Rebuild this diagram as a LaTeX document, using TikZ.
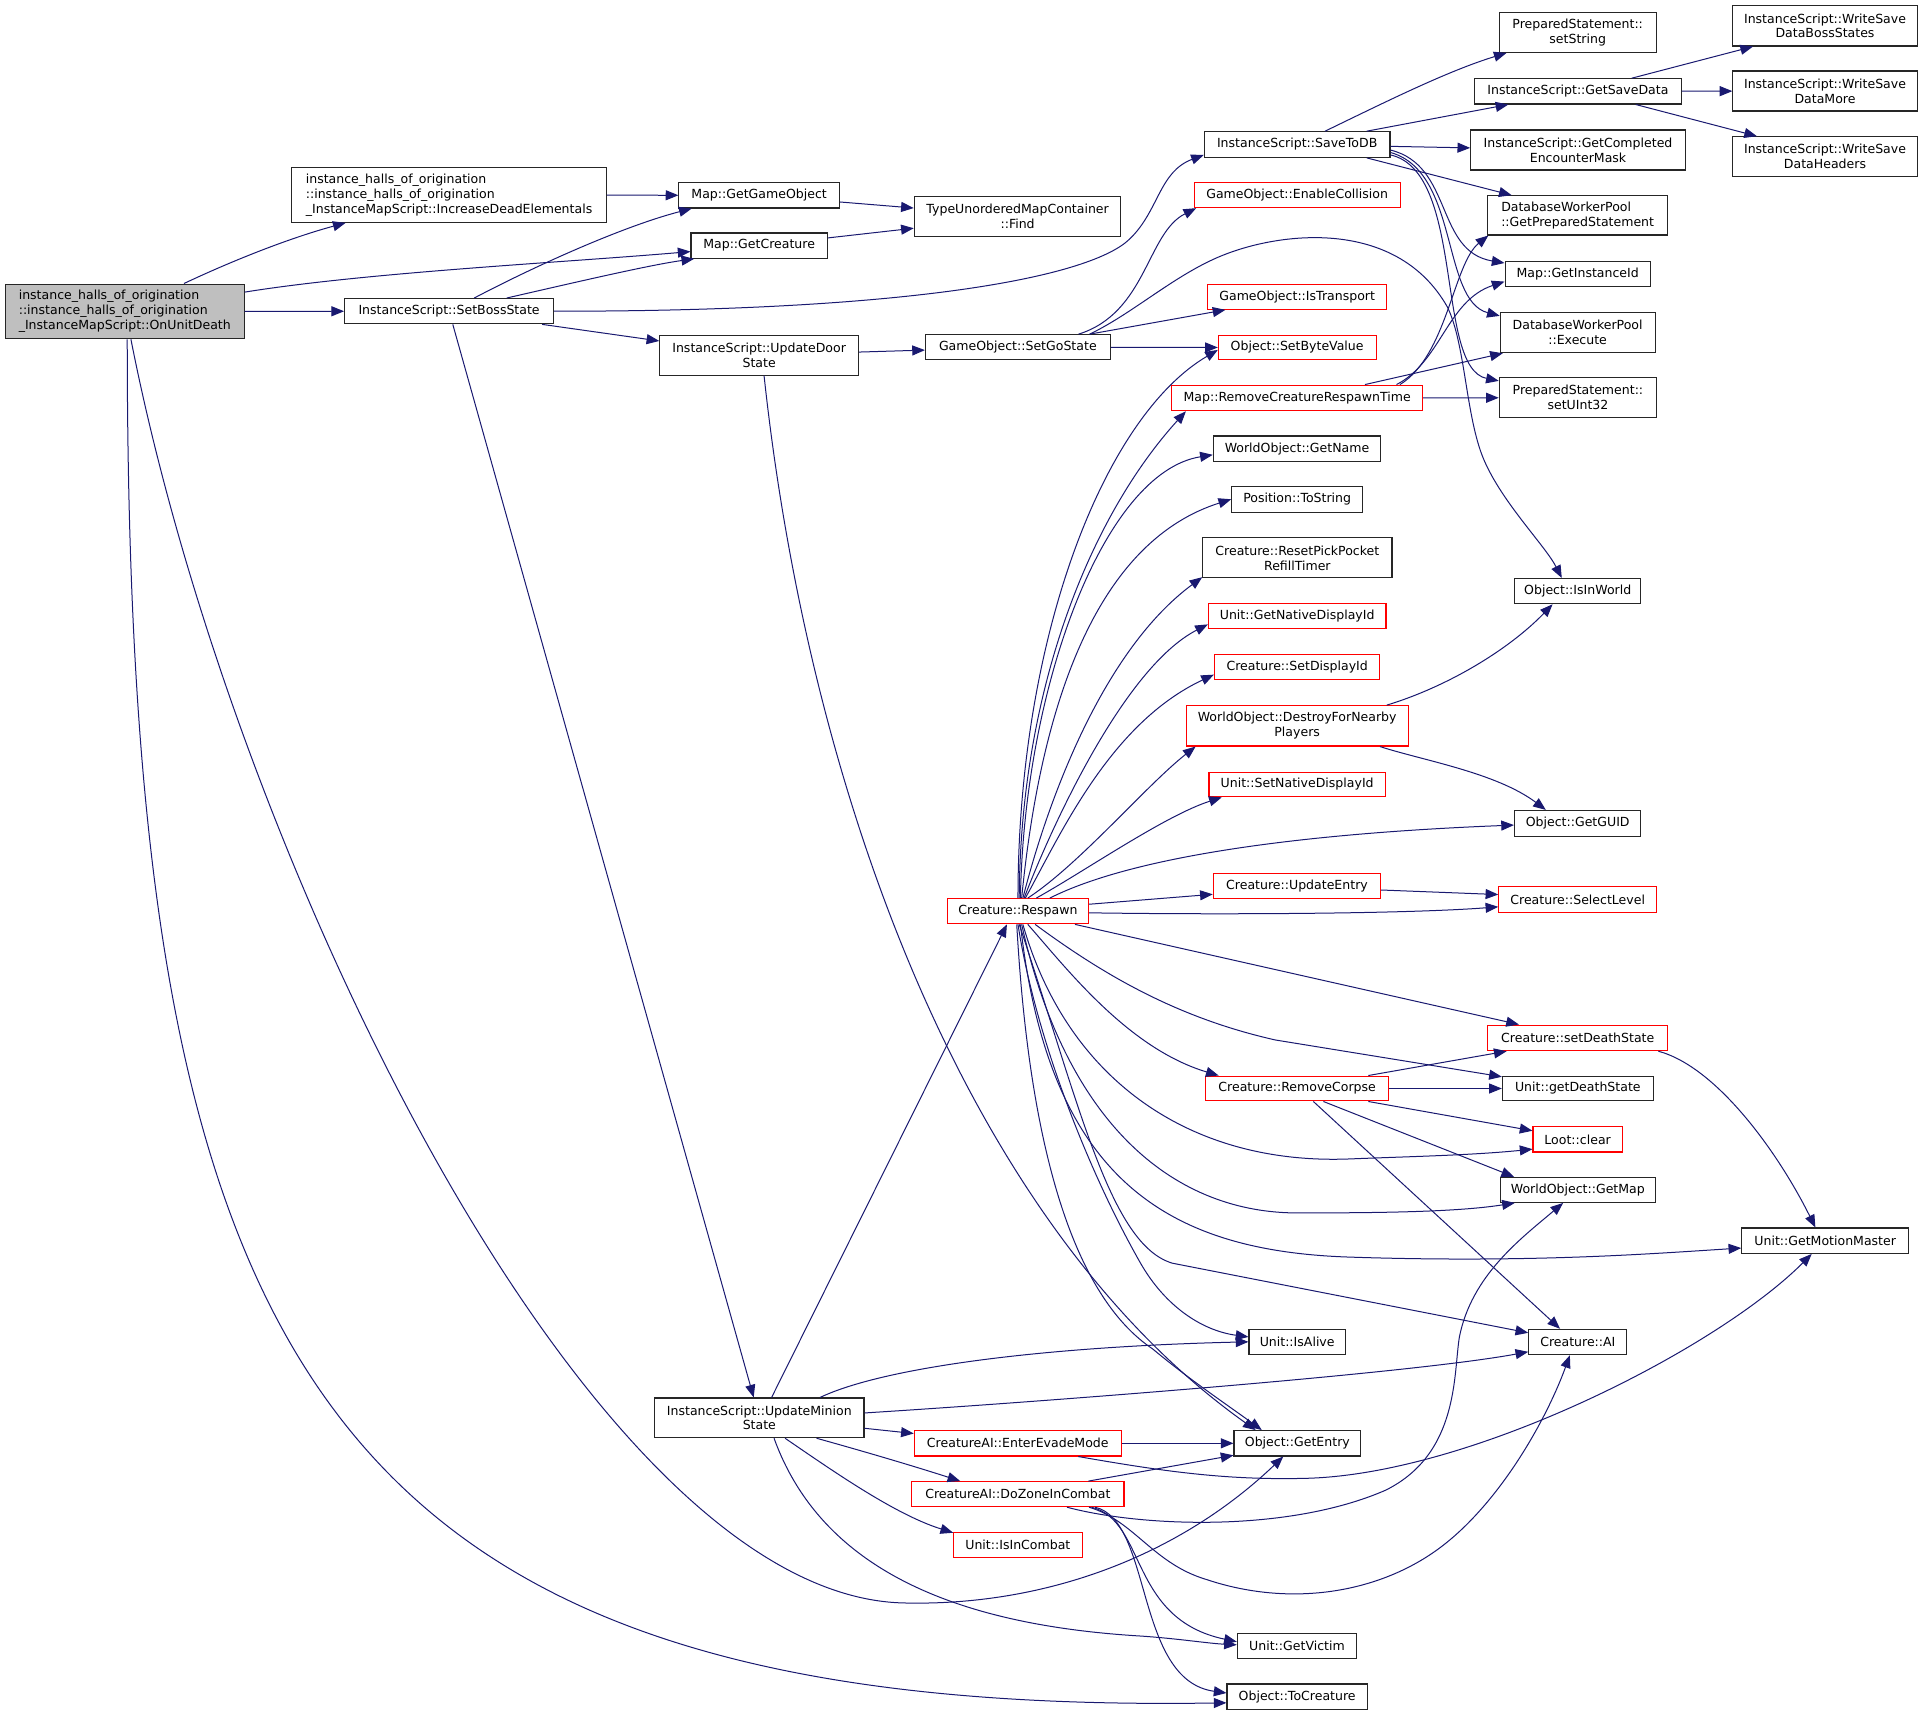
\documentclass[tikz,border=0pt]{standalone}
\usepackage{fontspec}
\setmainfont{DejaVu Sans}
\usetikzlibrary{arrows.meta,calc}
\definecolor{edgecol}{RGB}{25,25,112}
\definecolor{boxgray}{RGB}{191,191,191}
\tikzset{
  nb/.style={draw=black!85, line width=0.8pt, fill=white, inner sep=0pt, align=center, text=black,
             font=\fontsize{9.4}{11.2}\selectfont},
  rb/.style={nb, draw=red},
  arr/.style={draw=edgecol, line width=0.75pt, -{Triangle[length=9.5pt,width=7.5pt]}},
}
\newcommand\NB[7]{\node[#1, minimum width={#4*0.92pt}, minimum height={#5*0.92pt}] (#6) at (#2,#3) {#7};}
\begin{document}
\begin{tikzpicture}[x=0.92pt,y=-0.92pt]
\fill[white] (0,0) rectangle (1568,1398.4);
\useasboundingbox (0,0) rectangle (1568,1398.4);
% ---------- nodes ----------
\NB{nb,fill=boxgray,align=left}{101.75}{253.9}{194.7}{44.6}{ou}{instance\_halls\_of\_origination\\::instance\_halls\_of\_origination\\\_InstanceMapScript::OnUnitDeath}
\NB{nb,align=left}{366.15}{159}{256.3}{44.6}{ide}{instance\_halls\_of\_origination\\::instance\_halls\_of\_origination\\\_InstanceMapScript::IncreaseDeadElementals}
\NB{nb}{366.2}{253.75}{170.4}{20.6}{sbs}{InstanceScript::SetBossState}
\NB{nb}{619}{159.3}{130.8}{20.6}{ggo}{Map::GetGameObject}
\NB{nb}{619}{200.3}{111.1}{20.6}{gc}{Map::GetCreature}
\NB{nb}{829.75}{176.55}{168.5}{32.3}{find}{TypeUnorderedMapContainer\\::Find}
\NB{nb}{619}{289.5}{162}{32.6}{uds}{InstanceScript::UpdateDoor\\State}
\NB{nb}{829.95}{283.2}{150.7}{20.6}{sgs}{GameObject::SetGoState}
\NB{nb}{1057.7}{117.85}{151.4}{20.9}{stdb}{InstanceScript::SaveToDB}
\NB{rb}{1057.7}{159.15}{167.8}{20.3}{ec}{GameObject::EnableCollision}
\NB{rb}{1057.7}{241.9}{146}{20.6}{ist}{GameObject::IsTransport}
\NB{rb}{1057.7}{283.35}{128.6}{20.3}{sbv}{Object::SetByteValue}
\NB{rb}{1057.7}{324.45}{204.6}{20.9}{rcrt}{Map::RemoveCreatureRespawnTime}
\NB{nb}{1057.55}{365.85}{136.5}{20.7}{gn}{WorldObject::GetName}
\NB{nb}{1057.7}{407.1}{106.8}{21}{ts}{Position::ToString}
\NB{nb}{1057.85}{454.9}{154.3}{32.6}{rpp}{Creature::ResetPickPocket\\RefillTimer}
\NB{rb}{1057.7}{502.6}{144.8}{20.4}{gnd}{Unit::GetNativeDisplayId}
\NB{rb}{1057.7}{544.1}{135}{20.6}{sdi}{Creature::SetDisplayId}
\NB{rb}{1057.7}{591.85}{180.8}{32.9}{dfn}{WorldObject::DestroyForNearby\\Players}
\NB{rb}{1057.7}{639.65}{143.8}{20.1}{snd}{Unit::SetNativeDisplayId}
\NB{rb}{1057.55}{722.5}{136.5}{20.4}{ue}{Creature::UpdateEntry}
\NB{rb}{830.05}{743}{115.3}{20.6}{rs}{Creature::Respawn}
\NB{nb}{1286.45}{26.5}{128.3}{32.4}{sstr}{PreparedStatement::\\setString}
\NB{nb}{1286.6}{74.5}{168.2}{20.6}{gsd}{InstanceScript::GetSaveData}
\NB{nb}{1286.7}{122.3}{175}{32.6}{gcem}{InstanceScript::GetCompleted\\EncounterMask}
\NB{nb,align=left}{1286.4}{175.6}{146.8}{32}{gps}{DatabaseWorkerPool\\::GetPreparedStatement}
\NB{nb}{1286.45}{223.6}{118.5}{20.4}{gii}{Map::GetInstanceId}
\NB{nb}{1286.4}{271.3}{126.2}{32.6}{exe}{DatabaseWorkerPool\\::Execute}
\NB{nb}{1286.65}{324.3}{128.3}{32.6}{su32}{PreparedStatement::\\setUInt32}
\NB{nb}{1488.1}{21.05}{150.2}{32.9}{wbs}{InstanceScript::WriteSave\\DataBossStates}
\NB{nb}{1488.1}{74.2}{150.2}{32.6}{wm}{InstanceScript::WriteSave\\DataMore}
\NB{nb}{1488.1}{127.8}{150.2}{32.6}{wh}{InstanceScript::WriteSave\\DataHeaders}
\NB{nb}{1286.45}{482}{103.1}{20.6}{iiw}{Object::IsInWorld}
\NB{nb}{1286.45}{671.25}{103.1}{20.9}{guid}{Object::GetGUID}
\NB{rb}{1286.45}{733.4}{128.7}{20.6}{sl}{Creature::SelectLevel}
\NB{rb}{1286.5}{846.25}{147}{20.9}{sds}{Creature::setDeathState}
\NB{nb}{1286.55}{887.55}{123.1}{20.3}{gds}{Unit::getDeathState}
\NB{rb}{1057.7}{887.55}{149.2}{20.3}{rc}{Creature::RemoveCorpse}
\NB{rb}{1286.4}{929}{72.8}{20.6}{lc}{Loot::clear}
\NB{nb}{1286.55}{970.2}{125.9}{20.4}{gm}{WorldObject::GetMap}
\NB{nb}{1488.25}{1011.65}{136.1}{20.7}{gmm}{Unit::GetMotionMaster}
\NB{nb}{1286.55}{1094.25}{80.1}{20.7}{ai}{Creature::AI}
\NB{nb}{1057.7}{1094.1}{78.6}{20.4}{ia}{Unit::IsAlive}
\NB{nb}{619.15}{1156.1}{170.7}{32.4}{ums}{InstanceScript::UpdateMinion\\State}
\NB{rb}{829.9}{1176.85}{168.8}{20.7}{eem}{CreatureAI::EnterEvadeMode}
\NB{nb}{1057.85}{1176.85}{103.3}{20.7}{ge}{Object::GetEntry}
\NB{rb}{829.95}{1218.3}{173.1}{20.4}{dzc}{CreatureAI::DoZoneInCombat}
\NB{rb}{829.95}{1259.55}{104.7}{20.7}{iic}{Unit::IsInCombat}
\NB{nb}{1057.55}{1342.15}{97.3}{20.7}{gv}{Unit::GetVictim}
\NB{nb}{1057.7}{1383.45}{114.4}{20.7}{tc}{Object::ToCreature}
% ---------- edges ----------
% OnUnitDeath
\draw[arr] (ou) .. controls (195,210) and (240,193) .. (ide);
\draw[arr] (ou) .. controls (300,222) and (460,214) .. (gc);
\draw[arr] (ou) -- (sbs);
\draw[arr] ($(ou.south)+(5,0)$) .. controls (190,700) and (480,1300) .. (736,1307) .. controls (850,1310) and (960,1270) .. ($(ge.south)+(-11.5,0)$);
\draw[arr] ($(ou.south)+(2,0)$) .. controls (104,1100) and (250,1400) .. ($(tc.west)+(0,5)$);
% IncreaseDeadElementals
\draw[arr] (ide) -- (ggo);
% SetBossState
\draw[arr] (sbs) .. controls (440,215) and (510,184) .. ($(ggo.south)+(-55,0)$);
\draw[arr] (sbs) .. controls (470,230) and (530,216) .. ($(gc.south west)+(3,0)$);
\draw[arr] (sbs.east) .. controls (750,254) and (890,225) .. (921,195) .. controls (945,172) and (945,140) .. ($(stdb.west)+(0,8.5)$);
\draw[arr] (sbs) -- (uds);
\draw[arr] (sbs) -- (ums);
% map
\draw[arr] (ggo) -- (find);
\draw[arr] (gc) -- (find);
% UpdateDoorState
\draw[arr] (uds) -- (sgs);
\draw[arr] ($(uds.south)+(4,0)$) .. controls (660,650) and (790,1000) .. ($(ge.north)+(-34,0)$);
% SetGoState
\draw[arr] ($(sgs.north)+(49.5,0)$) .. controls (935,255) and (935,190) .. ($(ec.south west)+(2,0)$);
\draw[arr] ($(sgs.north)+(58.5,0)$) -- ($(ist.south)+(-58.5,0)$);
\draw[arr] (sgs) -- (sbv);
\draw[arr] ($(sgs.north)+(58.5,0)$) .. controls (925,255) and (960,222) .. (1000,207) .. controls (1050,188) and (1140,180) .. (1180,250) .. controls (1195,280) and (1195,340) .. (1210,375) .. controls (1225,410) and (1260,445) .. ($(iiw.north)+(-13,0)$);
% SaveToDB
\draw[arr] ($(stdb.north)+(22.7,0)$) .. controls (1130,83) and (1180,58) .. ($(sstr.south)+(-58,0)$);
\draw[arr] ($(stdb.north)+(56.7,0)$) -- ($(gsd.south)+(-56.7,0)$);
\draw[arr] (stdb) -- (gcem);
\draw[arr] ($(stdb.south)+(56.7,0)$) -- ($(gps.north)+(-53.8,0)$);
\draw[arr] ($(stdb.east)+(0,4.5)$) .. controls (1185,135) and (1170,205) .. ($(gii.north west)+(0,1.5)$);
\draw[arr] ($(stdb.east)+(0,6.5)$) .. controls (1190,140) and (1175,245) .. ($(exe.north west)+(0,3)$);
\draw[arr] ($(stdb.east)+(0,8.5)$) .. controls (1195,140) and (1170,300) .. ($(su32.north west)+(0,3)$);
% GetSaveData
\draw[arr] ($(gsd.north)+(43.9,0)$) -- ($(wbs.south)+(-58.7,0)$);
\draw[arr] (gsd) -- (wm);
\draw[arr] ($(gsd.south)+(47.2,0)$) -- ($(wh.north)+(-55.5,0)$);
% RemoveCreatureRespawnTime
\draw[arr] ($(rcrt.north)+(83.8,0)$) .. controls (1180,290) and (1185,215) .. ($(gps.south west)+(1,0)$);
\draw[arr] ($(rcrt.north)+(81,0)$) .. controls (1175,295) and (1180,245) .. ($(gii.west)+(0,6)$);
\draw[arr] ($(rcrt.north)+(55.3,0)$) -- ($(exe.south west)+(2.5,0)$);
\draw[arr] (rcrt) -- (su32);
% Respawn, upper fan
\draw[arr] (rs.north) .. controls (830,520) and (900,340) .. ($(sbv.west)+(0,2)$);
\draw[arr] ($(rs.north)+(1,0)$) .. controls (832,560) and (890,420) .. ($(rcrt.south west)+(12,0)$);
\draw[arr] ($(rs.north)+(2,0)$) .. controls (835,560) and (900,385) .. ($(gn.west)+(0,5)$);
\draw[arr] ($(rs.north)+(3,0)$) .. controls (850,560) and (900,440) .. (ts.west);
\draw[arr] ($(rs.north)+(4,0)$) .. controls (855,650) and (900,530) .. ($(rpp.south west)+(0,-1)$);
\draw[arr] ($(rs.north)+(5,0)$) .. controls (855,680) and (915,545) .. ($(gnd.west)+(0,6.5)$);
\draw[arr] ($(rs.north)+(6,0)$) .. controls (865,680) and (905,590) .. ($(sdi.west)+(0,6)$);
\draw[arr] ($(rs.north)+(8,0)$) .. controls (880,705) and (935,640) .. ($(dfn.south west)+(8,0)$);
\draw[arr] ($(rs.north)+(15,0)$) .. controls (885,710) and (950,665) .. ($(snd.south)+(-61.5,0)$);
\draw[arr] ($(rs.north)+(26,0)$) .. controls (920,700) and (1050,680) .. ($(guid.west)+(0,1.5)$);
\draw[arr] ($(rs.east)+(0,-5.7)$) -- ($(ue.west)+(0,6.7)$);
\draw[arr] ($(rs.east)+(0,1.3)$) .. controls (1000,746) and (1150,745) .. ($(sl.west)+(0,6)$);
\draw[arr] ($(ue.east)+(0,3.2)$) -- ($(sl.west)+(0,-4)$);
\draw[arr] ($(dfn.north)+(73,0)$) .. controls (1180,560) and (1230,530) .. ($(iiw.south)+(-20.5,0)$);
\draw[arr] ($(dfn.south)+(67.5,0)$) .. controls (1160,620) and (1220,630) .. ($(guid.north)+(-26,0)$);
% Respawn, lower fan
\draw[arr] ($(rs.south)+(46.5,0)$) -- ($(sds.north)+(-48,0)$);
\draw[arr] ($(rs.south)+(14,0)$) .. controls (900,795) and (960,830) .. (1040,848) -- ($(gds.north west)+(0,1)$);
\draw[arr] ($(rs.south)+(8,0)$) .. controls (870,790) and (920,855) .. ($(rc.north west)+(11,0)$);
\draw[arr] ($(rs.south)+(4,0)$) .. controls (870,880) and (970,950) .. (1100,945) .. controls (1150,943) and (1200,942) .. ($(lc.west)+(0,8)$);
\draw[arr] ($(rs.south)+(3,0)$) .. controls (870,920) and (960,990) .. (1060,989) .. controls (1130,989) and (1190,988) .. ($(gm.south west)+(12,0)$);
\draw[arr] ($(rs.south)+(2,0)$) .. controls (855,960) and (950,1020) .. (1100,1025) .. controls (1250,1030) and (1350,1022) .. ($(gmm.west)+(0,6)$);
\draw[arr] ($(rs.south)+(1,0)$) .. controls (880,900) and (905,1015) .. (956,1030) -- ($(ai.west)+(0,-7.5)$);
\draw[arr] (rs.south) .. controls (845,850) and (890,960) .. (930,1030) .. controls (950,1065) and (980,1085) .. ($(ia.west)+(0,-4)$);
\draw[arr] ($(rs.south)+(-1,0)$) .. controls (840,950) and (880,1060) .. (940,1100) .. controls (970,1125) and (1000,1145) .. ($(ge.north)+(-29,0)$);
% RemoveCorpse
\draw[arr] ($(rc.north)+(58,0)$) -- ($(sds.south)+(-58,0)$);
\draw[arr] (rc) -- (gds);
\draw[arr] ($(rc.south)+(58,0)$) -- ($(lc.west)+(0,-7)$);
\draw[arr] ($(rc.south)+(21.4,0)$) -- ($(gm.north)+(-52,0)$);
\draw[arr] ($(rc.south)+(13.2,0)$) -- ($(ai.north)+(-14.5,0)$);
% setDeathState
\draw[arr] ($(sds.south)+(65.7,0)$) .. controls (1400,870) and (1450,940) .. ($(gmm.north)+(-8,0)$);
% UpdateMinionState
\draw[arr] ($(ums.north)+(10,0)$) -- ($(rs.south)+(-9,0)$);
\draw[arr] ($(ums.north)+(49.5,0)$) .. controls (720,1115) and (850,1098) .. (ia.west);
\draw[arr] ($(ums.east)+(0,-4)$) .. controls (850,1143) and (1150,1120) .. ($(ai.west)+(0,8)$);
\draw[arr] ($(ums.east)+(0,8.5)$) -- ($(eem.west)+(0,-8)$);
\draw[arr] ($(ums.south)+(46.7,0)$) .. controls (710,1185) and (750,1197) .. ($(dzc.north)+(-47,0)$);
\draw[arr] ($(ums.south)+(21,0)$) .. controls (680,1200) and (730,1235) .. ($(iic.north west)+(0,1)$);
\draw[arr] ($(ums.south)+(12,0)$) .. controls (670,1280) and (780,1325) .. (930,1334) .. controls (960,1336) and (985,1340) .. ($(gv.west)+(0,-1)$);
% EnterEvadeMode
\draw[arr] (eem) -- (ge);
\draw[arr] ($(eem.south)+(49.3,0)$) .. controls (950,1200) and (1000,1207) .. (1065,1205.4) .. controls (1200,1202) and (1400,1100) .. ($(gmm.south)+(-11,0)$);
% DoZoneInCombat
\draw[arr] ($(dzc.north)+(57.5,0)$) -- ($(ge.south west)+(0,-1)$);
\draw[arr] ($(dzc.south)+(40,0)$) .. controls (930,1245) and (1050,1250) .. (1130,1215) .. controls (1190,1185) and (1185,1120) .. (1190,1090) .. controls (1200,1040) and (1240,1010) .. ($(gm.south)+(-12,0)$);
\draw[arr] ($(dzc.south)+(58,0)$) .. controls (925,1240) and (940,1275) .. (984,1288) .. controls (1050,1310) and (1120,1300) .. (1170,1265) .. controls (1220,1230) and (1260,1160) .. ($(ai.south)+(-6.5,0)$);
\draw[arr] ($(dzc.south)+(60,0)$) .. controls (935,1240) and (920,1320) .. ($(gv.west)+(0,-3.5)$);
\draw[arr] ($(dzc.south)+(63,0)$) .. controls (940,1240) and (925,1370) .. ($(tc.west)+(0,-3)$);
\end{tikzpicture}
\end{document}
